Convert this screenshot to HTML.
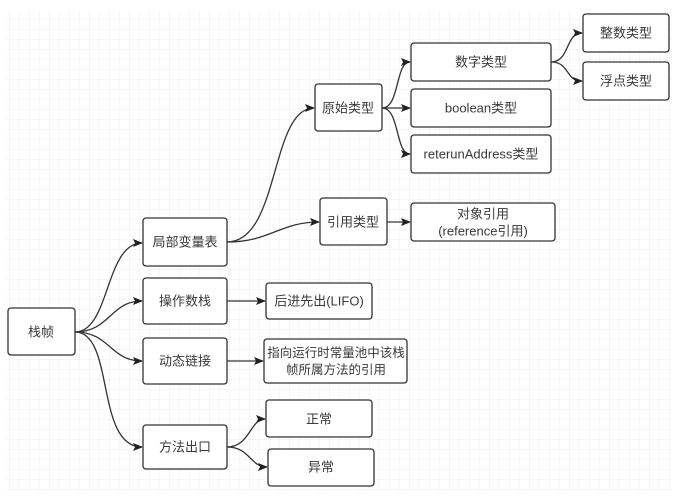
<!DOCTYPE html>
<html><head><meta charset="utf-8"><style>
body{margin:0;width:692px;height:494px;background:#fff;overflow:hidden}
</style></head><body>
<svg width="692" height="494" xmlns="http://www.w3.org/2000/svg" font-family="Liberation Sans, Noto Sans CJK SC, sans-serif">
<defs>
<pattern id="g" width="10" height="10" patternUnits="userSpaceOnUse"><path d="M10 0V10H0" fill="none" stroke="#ececec" stroke-width="1"/></pattern>
<marker id="a" markerWidth="10" markerHeight="8" refX="9" refY="4" orient="auto" markerUnits="userSpaceOnUse"><path d="M0 0L10 4L0 8L2 4z" fill="#222"/></marker>
</defs>
<rect x="5" y="12" width="668" height="478" fill="url(#g)"/>
<g fill="none" stroke="#333" stroke-width="1.3" marker-end="url(#a)">
<path d="M75 332C110 332 105 243 142 243"/>
<path d="M75 332C110 332 110 301 142 301"/>
<path d="M75 332C110 332 110 361 142 361"/>
<path d="M75 332C115 332 95 447 142 447"/>
<path d="M227 242C280 242 270 108 314 108"/>
<path d="M227 242C270 242 280 222 319 222"/>
<path d="M387 222L410 222"/>
<path d="M382 108C400 108 395 62 410 62"/>
<path d="M382 108L410 108"/>
<path d="M382 108C400 108 395 154 410 154"/>
<path d="M551 62C570 62 565 33 582 33"/>
<path d="M551 62C570 62 565 81 582 81"/>
<path d="M227 301L265 301"/>
<path d="M227 361L263 361"/>
<path d="M227 447C250 447 250 419 265 419"/>
<path d="M227 447C250 447 250 467 267 467"/>
</g>
<g fill="#fff" stroke="#333" stroke-width="1.3">
<rect x="8" y="308" width="67" height="47" rx="3"/>
<rect x="143" y="218" width="84" height="48" rx="3"/>
<rect x="143" y="278" width="84" height="46" rx="3"/>
<rect x="143" y="338" width="84" height="46" rx="3"/>
<rect x="143" y="425" width="84" height="44" rx="3"/>
<rect x="266" y="283" width="106" height="36" rx="3"/>
<rect x="264" y="339" width="143" height="44" rx="3"/>
<rect x="266" y="400" width="106" height="37" rx="3"/>
<rect x="268" y="449" width="106" height="37" rx="3"/>
<rect x="320" y="198" width="67" height="47" rx="3"/>
<rect x="315" y="84" width="67" height="47" rx="3"/>
<rect x="411" y="43" width="140" height="38" rx="3"/>
<rect x="411" y="89" width="140" height="38" rx="3"/>
<rect x="411" y="135" width="140" height="38" rx="3"/>
<rect x="583" y="14" width="86" height="38" rx="3"/>
<rect x="583" y="62" width="86" height="38" rx="3"/>
<rect x="411" y="203" width="144" height="38" rx="3"/>
</g>
<g font-size="13" fill="#3a3a3a" text-anchor="middle" dominant-baseline="central">
<text x="41" y="332">栈帧</text>
<text x="185" y="242">局部变量表</text>
<text x="185" y="301">操作数栈</text>
<text x="185" y="361">动态链接</text>
<text x="185" y="447">方法出口</text>
<text x="319" y="301">后进先出(LIFO)</text>
<text x="336" y="353" font-size="12.5">指向运行时常量池中该栈</text>
<text x="336" y="370" font-size="12.5">帧所属方法的引用</text>
<text x="319" y="419">正常</text>
<text x="321" y="467">异常</text>
<text x="353" y="222">引用类型</text>
<text x="348" y="108">原始类型</text>
<text x="481" y="62">数字类型</text>
<text x="481" y="108">boolean类型</text>
<text x="481" y="154">reterunAddress类型</text>
<text x="626" y="33">整数类型</text>
<text x="626" y="81">浮点类型</text>
<text x="483" y="214">对象引用</text>
<text x="483" y="231">(reference引用)</text>
</g>
</svg>
</body></html>
